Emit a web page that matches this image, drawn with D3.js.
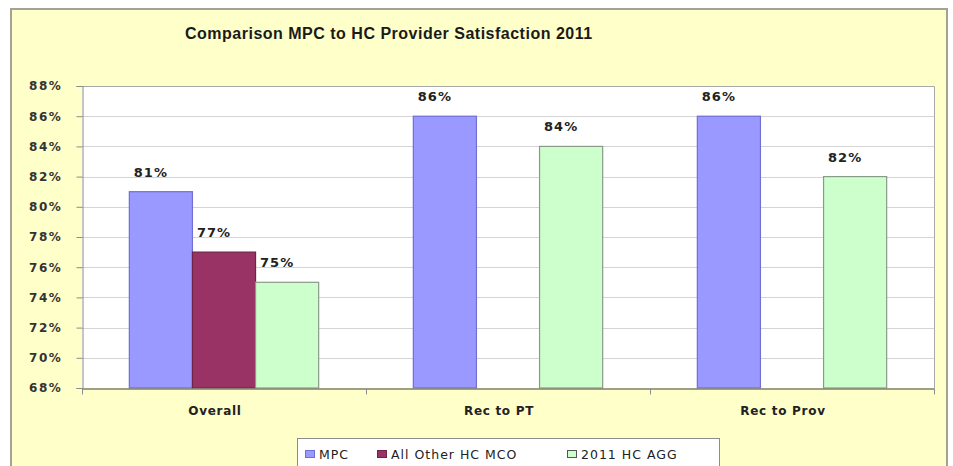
<!DOCTYPE html>
<html>
<head>
<meta charset="utf-8">
<script src="https://cdn.jsdelivr.net/npm/d3@7"></script>
<style>
  html, body { margin: 0; padding: 0; background: #ffffff; }
  svg { display: block; }
</style>
</head>
<body>
<svg id="chart" width="953" height="466"></svg>
<script>
// chart data
const categories = ['Overall', 'Rec to PT', 'Rec to Prov'];
const seriesNames = ['MPC', 'All Other HC MCO', '2011 HC AGG'];
const mpcValues = [0.81, 0.86, 0.86];
const otherMcoValues = [0.77, null, null];
const aggValues = [0.75, 0.84, 0.82];
const yTicks = [0.68, 0.70, 0.72, 0.74, 0.76, 0.78, 0.80, 0.82, 0.84, 0.86, 0.88];
const chartTitle = 'Comparison MPC to HC Provider Satisfaction 2011';

const seriesValues = [mpcValues, otherMcoValues, aggValues];
const fills = ['#9999ff', '#993366', '#ccffcc'];
const strokes = ['#6f6fd6', '#6e2446', '#8a9a8a'];

let svg = d3.select('#chart');

// outer chart area
svg.append('rect')
    .attr('x', 11).attr('y', 9)
    .attr('width', 936).attr('height', 470)
    .attr('fill', '#ffffca')
    .attr('stroke', '#a2a296')
    .attr('stroke-width', 2);

svg.append('text')
    .attr('x', 185).attr('y', 39)
    .attr('font-family', 'Liberation Sans, Arial, sans-serif')
    .attr('font-weight', 'bold')
    .attr('font-size', 16)
    .attr('letter-spacing', 0.5)
    .attr('fill', '#1a1a1a')
    .text(chartTitle);

// plot area
const plot = {left: 82, right: 934, top: 86, bottom: 388};

let yScale = d3.scaleLinear().domain([0.68, 0.88]).range([plot.bottom, plot.top]);
let x0 = d3.scaleBand().domain(categories).range([plot.left, plot.right]).padding(0);
let x1 = d3.scaleBand().domain(d3.range(seriesNames.length))
    .range([0, x0.bandwidth()]).paddingInner(0).paddingOuter(0.75);

svg.append('rect')
    .attr('x', plot.left).attr('y', plot.top)
    .attr('width', plot.right - plot.left).attr('height', plot.bottom - plot.top)
    .attr('fill', '#ffffff');

// gridlines
svg.append('g')
    .selectAll('line')
    .data(yTicks.slice(1))
    .enter()
    .append('line')
    .attr('x1', plot.left).attr('x2', plot.right)
    .attr('y1', d => Math.round(yScale(d)) + 0.5)
    .attr('y2', d => Math.round(yScale(d)) + 0.5)
    .attr('stroke', '#d4d4d4');

// plot border top/right
svg.append('path')
    .attr('d', `M${plot.left},${plot.top + 0.5}H${plot.right + 0.5}V${plot.bottom}`)
    .attr('fill', 'none')
    .attr('stroke', '#a8a8a8');

// bars
seriesValues.forEach((vals, s) => {
    svg.append('g')
        .selectAll('rect')
        .data(categories.map((c, i) => ({cat: c, value: vals[i]})).filter(d => d.value !== null))
        .enter()
        .append('rect')
        .attr('x', d => x0(d.cat) + x1(s))
        .attr('y', d => yScale(d.value))
        .attr('width', x1.bandwidth())
        .attr('height', d => plot.bottom - yScale(d.value))
        .attr('fill', fills[s])
        .attr('stroke', strokes[s])
        .attr('stroke-width', 1.2);

    svg.append('g')
        .selectAll('text')
        .data(categories.map((c, i) => ({cat: c, value: vals[i]})).filter(d => d.value !== null))
        .enter()
        .append('text')
        .attr('x', d => x0(d.cat) + x1(s) + x1.bandwidth() / 2 - 10)
        .attr('y', d => yScale(d.value) - 15)
        .attr('text-anchor', 'middle')
        .attr('font-family', 'DejaVu Sans, sans-serif')
        .attr('font-weight', 'bold')
        .attr('font-size', 13)
        .attr('letter-spacing', 1)
        .attr('fill', '#222')
        .text(d => d3.format('.0%')(d.value));
});

// y axis
let yAxis = d3.axisLeft(yScale)
    .tickValues(yTicks)
    .tickSize(6)
    .tickPadding(14)
    .tickFormat(d3.format('.0%'));

let yg = svg.append('g')
    .attr('transform', `translate(${plot.left + 0.5},0)`)
    .call(yAxis);
yg.select('.domain').attr('stroke', '#8c8c8c');
yg.selectAll('.tick line').attr('stroke', '#8c8c8c');
yg.selectAll('.tick text')
    .attr('font-family', 'DejaVu Sans, sans-serif')
    .attr('font-weight', 'bold')
    .attr('font-size', 12)
    .attr('letter-spacing', 1.6)
    .attr('fill', '#333');

// x axis
let xAxis = d3.axisBottom(x0).tickSize(0).tickPadding(18);
let xg = svg.append('g')
    .attr('transform', `translate(0,${plot.bottom + 0.5})`)
    .call(xAxis);
xg.select('.domain').attr('stroke', '#7f7f6f').attr('stroke-width', 1.5);
xg.selectAll('.tick text')
    .attr('dx', -9)
    .attr('font-family', 'DejaVu Sans, sans-serif')
    .attr('font-weight', 'bold')
    .attr('font-size', 12)
    .attr('letter-spacing', 0.7)
    .attr('fill', '#222');

// category boundary ticks
xg.append('g')
    .selectAll('line')
    .data(categories.map(c => x0(c)).concat([plot.right]))
    .enter()
    .append('line')
    .attr('x1', d => Math.round(d) + 0.5).attr('x2', d => Math.round(d) + 0.5)
    .attr('y1', 0).attr('y2', 6)
    .attr('stroke', '#8c8c8c');

// legend
const legendItemX = [305, 377, 567];
let legend = svg.append('g');
legend.append('rect')
    .attr('x', 297.5).attr('y', 438.5)
    .attr('width', 422).attr('height', 40)
    .attr('fill', '#ffffff')
    .attr('stroke', '#8c8c8c');

seriesNames.forEach((name, s) => {
    legend.append('rect')
        .attr('x', legendItemX[s] + 0.5).attr('y', 450.5)
        .attr('width', 9).attr('height', 7)
        .attr('fill', fills[s])
        .attr('stroke', s === 2 ? '#555' : strokes[s]);
    legend.append('text')
        .attr('x', legendItemX[s] + 14).attr('y', 459)
        .attr('font-family', 'DejaVu Sans, sans-serif')
        .attr('font-size', 12.5)
        .attr('letter-spacing', 1)
        .attr('fill', '#222')
        .text(name);
});
</script>
</body>
</html>
